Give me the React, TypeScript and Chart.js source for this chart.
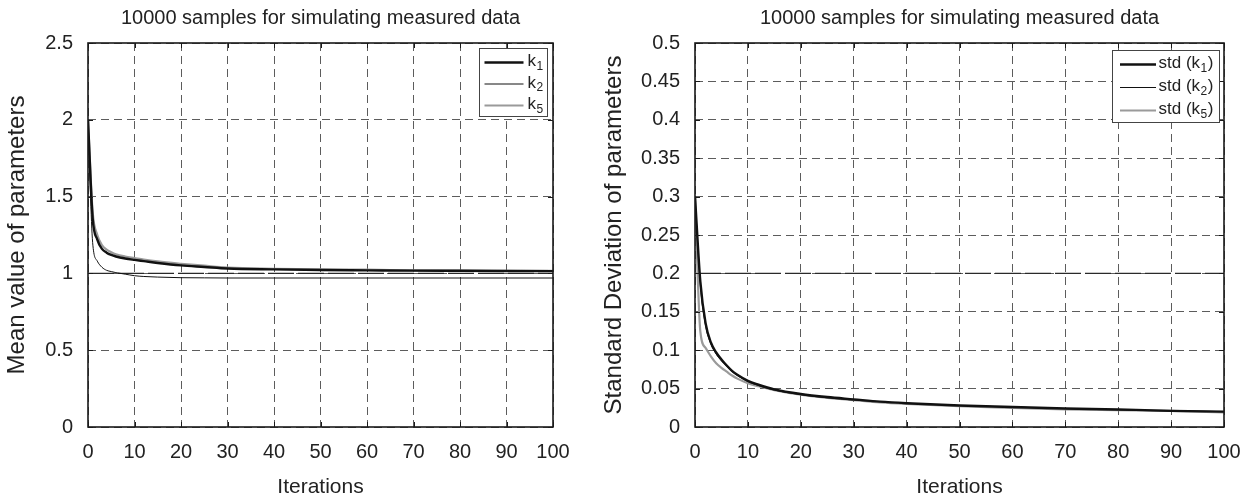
import React, { useEffect, useRef } from "react";
import { Chart, registerables } from "chart.js";
Chart.register(...registerables);

const FONT = "'Liberation Sans', Arial, Helvetica, sans-serif";
const TEXT = "#222222";
const TITLE = "10000 samples for simulating measured data";

// ---- Left panel: mean value of parameters ----
const MEAN_ITER = [0, 1, 2, 3, 4, 5, 6, 8, 10, 12, 15, 20, 25, 30, 40, 50, 60, 70, 80, 90, 100];
const MEAN_K1 = [2.0, 1.36, 1.22, 1.16, 1.135, 1.12, 1.11, 1.097, 1.088, 1.08, 1.068, 1.052, 1.042, 1.032, 1.026, 1.022, 1.02, 1.018, 1.017, 1.016, 1.015];
const MEAN_K2 = [2.0, 1.2, 1.08, 1.04, 1.02, 1.012, 1.005, 0.995, 0.985, 0.98, 0.976, 0.972, 0.971, 0.97, 0.97, 0.97, 0.97, 0.97, 0.97, 0.97, 0.97];
const MEAN_K5 = [2.0, 1.4, 1.25, 1.185, 1.155, 1.138, 1.125, 1.11, 1.1, 1.09, 1.078, 1.063, 1.05, 1.038, 1.03, 1.026, 1.024, 1.02, 1.018, 1.017, 1.016];
const MEAN_REF = 1;
const MEAN_Y_MAX = 2.5;
const MEAN_Y_STEP = 0.5;

// ---- Right panel: standard deviation of parameters ----
const STD_ITER = [0, 1, 2, 3, 4, 5, 6, 7, 8, 10, 12, 15, 20, 25, 30, 35, 40, 50, 60, 70, 80, 90, 100];
const STD_K1 = [0.3, 0.19, 0.135, 0.11, 0.097, 0.088, 0.08, 0.073, 0.068, 0.06, 0.055, 0.049, 0.043, 0.039, 0.036, 0.033, 0.031, 0.028, 0.026, 0.024, 0.023, 0.021, 0.02];
const STD_K2 = [0.3, 0.185, 0.132, 0.108, 0.095, 0.086, 0.079, 0.072, 0.067, 0.059, 0.054, 0.048, 0.042, 0.038, 0.035, 0.033, 0.031, 0.028, 0.026, 0.024, 0.022, 0.021, 0.02];
const STD_K5 = [0.3, 0.125, 0.103, 0.092, 0.083, 0.077, 0.072, 0.067, 0.063, 0.057, 0.053, 0.048, 0.042, 0.038, 0.035, 0.032, 0.03, 0.027, 0.025, 0.023, 0.022, 0.021, 0.019];
const STD_REF = 0.2;
const STD_Y_MAX = 0.5;
const STD_Y_STEP = 0.05;

const X_MAX = 100;
const X_STEP = 10;

const MEAN_LEGEND = [
  { pre: "k", sub: "1", post: "" },
  { pre: "k", sub: "2", post: "" },
  { pre: "k", sub: "5", post: "" },
];
const STD_LEGEND = [
  { pre: "std (k", sub: "1", post: ")" },
  { pre: "std (k", sub: "2", post: ")" },
  { pre: "std (k", sub: "5", post: ")" },
];

const STYLES = [
  { color: "#111111", width: 2.4 },
  { color: "#111111", width: 1 },
  { color: "#9a9a9a", width: 2.2 },
];

type LegendGeom = { insetRight: number; insetTop: number; w: number; h: number; firstY: number; step: number; lx0: number; lx1: number; tx: number };

function pts(xs: number[], ys: number[]) {
  return xs.map((x, i) => ({ x, y: ys[i] }));
}

function makeChart(
  canvas: HTMLCanvasElement,
  p: {
    iter: number[];
    series: number[][];
    ref: number;
    yMax: number;
    yStep: number;
    yTitle: string;
    yWidth: number;
    padRight: number;
    yTitlePad: number;
    legendItems: { pre: string; sub: string; post: string }[];
    legend: LegendGeom;
  }
) {
  const deco = {
    id: "deco",
    afterDatasetsDraw(chart: any) {
      const { ctx, chartArea: a, scales } = chart;
      ctx.save();
      // frame
      ctx.strokeStyle = "#1a1a1a";
      ctx.lineWidth = 1.6;
      ctx.setLineDash([]);
      ctx.strokeRect(a.left, a.top, a.right - a.left, a.bottom - a.top);
      // inward ticks
      ctx.lineWidth = 1;
      const L = 5;
      const line = (x0: number, y0: number, x1: number, y1: number) => {
        ctx.beginPath();
        ctx.moveTo(x0, y0);
        ctx.lineTo(x1, y1);
        ctx.stroke();
      };
      scales.x.ticks.forEach((t: any) => {
        const px = Math.round(scales.x.getPixelForValue(t.value)) + 0.5;
        line(px, a.bottom, px, a.bottom - L);
        line(px, a.top, px, a.top + L);
      });
      scales.y.ticks.forEach((t: any) => {
        const py = Math.round(scales.y.getPixelForValue(t.value)) + 0.5;
        line(a.left, py, a.left + L, py);
        line(a.right, py, a.right - L, py);
      });
      // title
      ctx.fillStyle = TEXT;
      ctx.font = `20px ${FONT}`;
      ctx.textAlign = "center";
      ctx.textBaseline = "middle";
      ctx.fillText(TITLE, (a.left + a.right) / 2, 18);
      // legend
      const g = p.legend;
      const bx = Math.round(a.right - g.insetRight - g.w) + 0.5;
      const by = Math.round(a.top + g.insetTop) + 0.5;
      ctx.fillStyle = "#ffffff";
      ctx.fillRect(bx, by, g.w, g.h);
      ctx.strokeStyle = "#444444";
      ctx.lineWidth = 1;
      ctx.strokeRect(bx, by, g.w, g.h);
      p.legendItems.forEach((it, i) => {
        const y = by + g.firstY + i * g.step;
        ctx.strokeStyle = STYLES[i].color;
        ctx.lineWidth = STYLES[i].width;
        line(bx + g.lx0, y, bx + g.lx1, y);
        ctx.fillStyle = TEXT;
        ctx.textAlign = "left";
        ctx.textBaseline = "middle";
        let x = bx + g.tx;
        ctx.font = `17px ${FONT}`;
        ctx.fillText(it.pre, x, y - 1);
        x += ctx.measureText(it.pre).width + 0.5;
        ctx.font = `12px ${FONT}`;
        ctx.fillText(it.sub, x, y + 4);
        x += ctx.measureText(it.sub).width + 0.5;
        if (it.post) {
          ctx.font = `17px ${FONT}`;
          ctx.fillText(it.post, x, y - 1);
        }
      });
      ctx.restore();
    },
  };

  const datasets: any[] = p.series.map((s, i) => ({
    label: "s" + i,
    data: pts(p.iter, s),
    borderColor: STYLES[i].color,
    borderWidth: STYLES[i].width,
    pointRadius: 0,
    cubicInterpolationMode: "monotone",
    fill: false,
    order: i + 1,
  }));
  datasets.push({
    label: "ref",
    data: [
      { x: 0, y: p.ref },
      { x: X_MAX, y: p.ref },
    ],
    borderColor: "#2a2a2a",
    borderWidth: 1.2,
    borderDash: [26, 4],
    pointRadius: 0,
    fill: false,
    order: 10,
  });

  return new Chart(canvas, {
    type: "line",
    data: { datasets },
    plugins: [deco],
    options: {
      animation: false,
      responsive: false,
      maintainAspectRatio: false,
      layout: { padding: { top: 43, right: p.padRight, left: 0, bottom: 0 } },
      plugins: { legend: { display: false }, tooltip: { enabled: false }, title: { display: false } },
      scales: {
        x: {
          type: "linear",
          min: 0,
          max: X_MAX,
          afterFit: (s: any) => {
            s.height = 73;
          },
          ticks: { stepSize: X_STEP, color: TEXT, font: { family: FONT, size: 20 }, padding: 13, maxRotation: 0 },
          grid: { color: "#5c5c5c", lineWidth: 1, drawTicks: false },
          border: { display: false, dash: [8, 5] },
          title: { display: true, text: "Iterations", color: TEXT, font: { family: FONT, size: 21 }, padding: { top: 0, bottom: 0 } },
        },
        y: {
          type: "linear",
          min: 0,
          max: p.yMax,
          afterFit: (s: any) => {
            s.width = p.yWidth;
          },
          ticks: {
            stepSize: p.yStep,
            color: TEXT,
            font: { family: FONT, size: 20 },
            padding: 15,
            callback: (v: any) => String(Number(Number(v).toFixed(2))),
          },
          grid: { color: "#5c5c5c", lineWidth: 1, drawTicks: false },
          border: { display: false, dash: [8, 5] },
          title: { display: true, text: p.yTitle, color: TEXT, font: { family: FONT, size: 24 }, padding: { top: p.yTitlePad, bottom: 0 } },
        },
      },
    } as any,
  });
}

export default function App() {
  const leftRef = useRef<HTMLCanvasElement>(null);
  const rightRef = useRef<HTMLCanvasElement>(null);

  useEffect(() => {
    const c1 = makeChart(leftRef.current!, {
      iter: MEAN_ITER,
      series: [MEAN_K1, MEAN_K2, MEAN_K5],
      ref: MEAN_REF,
      yMax: MEAN_Y_MAX,
      yStep: MEAN_Y_STEP,
      yTitle: "Mean value of parameters",
      yWidth: 88,
      padRight: 47,
      yTitlePad: 3,
      legendItems: MEAN_LEGEND,
      legend: { insetRight: 6, insetTop: 5, w: 68, h: 68, firstY: 14, step: 21.5, lx0: 5, lx1: 44, tx: 48 },
    });
    const c2 = makeChart(rightRef.current!, {
      iter: STD_ITER,
      series: [STD_K1, STD_K2, STD_K5],
      ref: STD_REF,
      yMax: STD_Y_MAX,
      yStep: STD_Y_STEP,
      yTitle: "Standard Deviation of parameters",
      yWidth: 95,
      padRight: 36,
      yTitlePad: 0,
      legendItems: STD_LEGEND,
      legend: { insetRight: 5, insetTop: 7, w: 107, h: 72, firstY: 14, step: 23, lx0: 7.5, lx1: 43.5, tx: 46 },
    });
    return () => {
      c1.destroy();
      c2.destroy();
    };
  }, []);

  return (
    <div style={{ position: "fixed", left: 0, top: 0, width: 1260, height: 500, background: "#fff" }}>
      <canvas ref={leftRef} width={600} height={500} style={{ position: "absolute", left: 0, top: 0, width: 600, height: 500 }} />
      <canvas ref={rightRef} width={660} height={500} style={{ position: "absolute", left: 600, top: 0, width: 660, height: 500 }} />
    </div>
  );
}
